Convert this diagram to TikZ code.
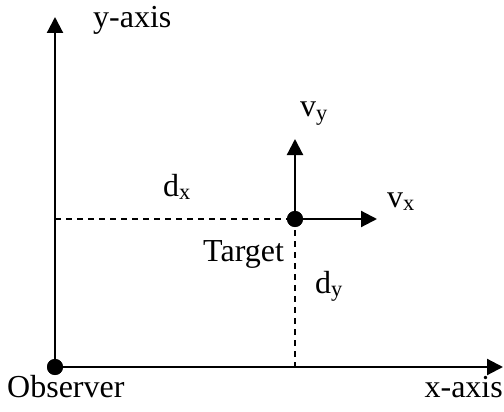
\documentclass[tikz,border=0pt]{standalone}
\usepackage{fontspec}
\setmainfont{Liberation Serif}
\usetikzlibrary{arrows.meta}
\begin{document}
\begin{tikzpicture}[x=1pt,y=-1pt,
  axis/.style={line width=2.2pt,-{Triangle[length=16pt,width=16pt]}},
  guide/.style={line width=2.2pt,dash pattern=on 6pt off 5pt},
  dot/.style={circle,fill=black,inner sep=0pt,minimum size=16pt},
  lbl/.style={inner sep=0pt,anchor=base west,font=\fontsize{32}{36}\selectfont}]
\useasboundingbox (0,0) rectangle (504,412);
\node[dot] (obs) at (55,367) {};
\node[dot] (tgt) at (295,219) {};
\coordinate (ytip) at (55,17);
\coordinate (xtip) at (503,367);
\coordinate (dxs) at (55,219);
\coordinate (dye) at (295,367);
\coordinate (vytip) at (295,139);
\coordinate (vxtip) at (377,219);
\draw[guide] (dxs) -- (tgt.center);
\draw[guide] (tgt.center) -- (dye);
\draw[axis] (obs.center) -- (ytip);
\draw[axis] (obs.center) -- (xtip);
\draw[axis] (tgt.center) -- (vytip);
\draw[axis] (tgt.center) -- (vxtip);
\node[dot] at (obs) {};
\node[dot] at (tgt) {};
\node[lbl] (ylab) at (93,28) {y-axis};
\node[lbl] (obslab) at (7,397) {Observer};
\node[lbl,anchor=base east] (xlab) at (503,397) {x-axis};
\node[lbl] (dxlab) at (163,196) {d\textsubscript{x}};
\node[lbl] (dylab) at (315,293) {d\textsubscript{y}};
\node[lbl] (vylab) at (300,117) {v\textsubscript{y}};
\node[lbl] (vxlab) at (387,207) {v\textsubscript{x}};
\node[lbl] (tlab) at (203,261) {Target};
\end{tikzpicture}
\end{document}
